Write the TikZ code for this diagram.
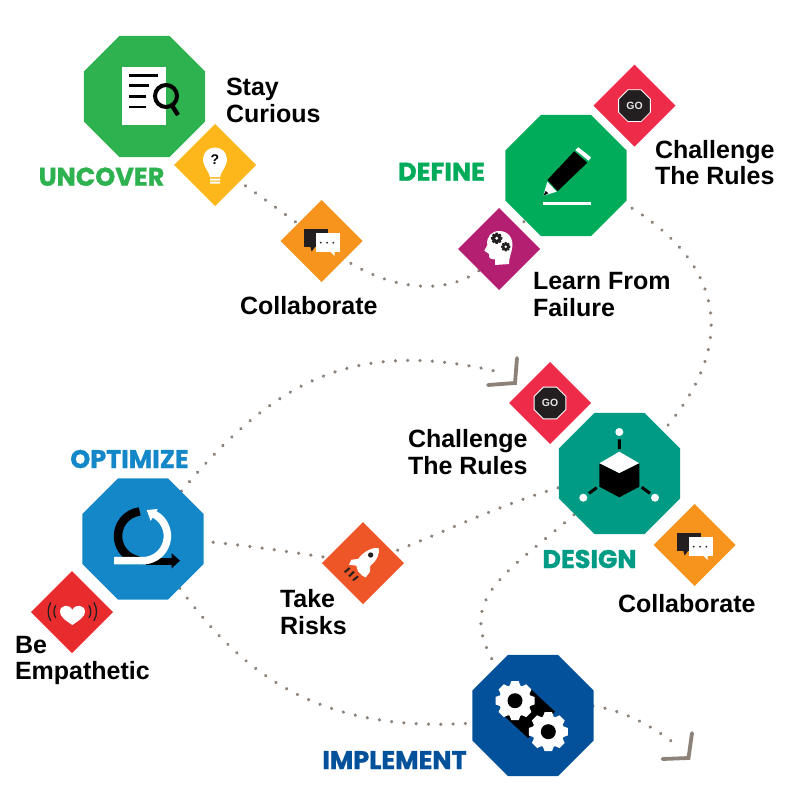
\documentclass[tikz,border=0pt]{standalone}
\usepackage{fontspec}
\setmainfont{Liberation Sans}
\newfontfamily\headfont[FakeBold=1.2]{Poppins}
\usetikzlibrary{shapes.geometric,backgrounds,calc,decorations.markings}
\definecolor{dotgrey}{HTML}{8C8279}
\definecolor{cUncover}{HTML}{2EB24F}
\definecolor{cDefine}{HTML}{00AB5A}
\definecolor{cDesign}{HTML}{009B84}
\definecolor{cOptimize}{HTML}{1487C8}
\definecolor{cImplement}{HTML}{04519B}
\definecolor{cYellow}{HTML}{FDB71A}
\definecolor{cOrange}{HTML}{F7941D}
\definecolor{cRed}{HTML}{EF2B4A}
\definecolor{cPurple}{HTML}{B41F71}
\definecolor{cRocket}{HTML}{EE5527}
\definecolor{cHeart}{HTML}{E82C2E}
\definecolor{ink}{HTML}{231F20}
\tikzset{
  octa/.style={regular polygon,regular polygon sides=8,minimum size=131pt,inner sep=0pt,outer sep=0pt},
  tile/.style={diamond,aspect=1,minimum width=82pt,minimum height=82pt,inner sep=0pt,outer sep=0pt},
  trail/.style={postaction={decorate},decoration={markings,mark=between positions #1 and 1 step 12.3pt with {\fill[dotgrey] (0,0) circle (1.8pt);}}},
  trail/.default=0pt,
  chev/.style={draw=dotgrey,line width=3.8pt,line cap=round,line join=miter},
  lab/.style={font=\bfseries\fontsize{25}{26.6}\selectfont,text=black,align=left,inner sep=0pt,outer sep=0pt},
  head/.style={font=\headfont\bfseries\fontsize{25.5}{26}\selectfont,inner sep=0pt,outer sep=0pt},
  chat/.pic={
    \fill[ink] (-17.7,-12) rectangle (6.7,5.7);
    \fill[ink] (-11.7,5) -- (-10,10.5) -- (-6,5) -- cycle;
    \fill[white] (-6,-7.7) rectangle (18,10.7);
    \fill[white] (8,10) -- (13,15) -- (13,10) -- cycle;
    \foreach \q in {-1,5.4,11.7} \fill[ink] (\q,1.7) circle (1);
  },
  gosign/.pic={
    \draw[fill=ink,draw=white,line width=.8pt] (22.5:17.2) -- (67.5:17.2) -- (112.5:17.2) -- (157.5:17.2) -- (202.5:17.2) -- (247.5:17.2) -- (292.5:17.2) -- (337.5:17.2) -- cycle;
    \node[font=\bfseries\fontsize{10.5}{11}\selectfont,text=white!90!black,inner sep=0pt] (t) at (0,0) {GO};
  },
}
\newcommand{\gearicon}[6]{%
  \begin{scope}[shift={(#1)}]
    \fill[#4] (0,0) circle ({0.82*#2});
    \foreach \i in {1,...,#3}
      \fill[#4,rotate={\i*360/#3}] ({-0.3*#2},{0.7*#2}) -- ({-0.19*#2},{#2}) -- ({0.19*#2},{#2}) -- ({0.3*#2},{0.7*#2}) -- cycle;
    \fill[#5] (0,0) circle (#6);
  \end{scope}}
\begin{document}
\begin{tikzpicture}[x=1pt,y=-1pt]
\useasboundingbox (0,0) rectangle (800,800);
% stage shapes
\node[octa,fill=cUncover] (uncover) at (144.5,96.5) {};
\node[octa,fill=cDefine] (define) at (566,175.5) {};
\node[octa,fill=cDesign] (design) at (619.5,473.5) {};
\node[octa,fill=cOptimize] (optimize) at (143,539) {};
\node[octa,fill=cImplement] (implement) at (533,715.5) {};
% value tiles
\node[tile,fill=cYellow] (curious) at (215,165) {};
\node[tile,fill=cOrange] (collabA) at (321.7,241) {};
\node[tile,fill=cRed] (goA) at (634.5,105.7) {};
\node[tile,fill=cPurple] (failure) at (499,249) {};
\node[tile,fill=cRed] (goB) at (550,403) {};
\node[tile,fill=cOrange] (collabB) at (694.7,545) {};
\node[tile,fill=cRocket] (risks) at (363,563) {};
\node[tile,fill=cHeart] (empathy) at (72,612) {};
% arrow ends
\coordinate (endA) at (503,373);
\coordinate (endB) at (680,748);
\coordinate (tipA) at (515,383);
\coordinate (tipB) at (688.5,758);
\begin{scope}[on background layer]
  \path[trail] (curious.center) .. controls (250,188) and (290,218) .. (collabA.center);
  \path[trail] (collabA.center) .. controls (370,288) and (460,310) .. (failure.center);
  \path[trail] (failure.center) -- (define.center);
  \path[trail] (define.center) .. controls (730,240) and (765,350) .. (design.center);
  \path[trail] (risks.center) .. controls (440,537) and (520,490) .. (design.center);
  \path[trail=8.8pt] (optimize.center) .. controls (200,537) and (290,552) .. (risks.center);
  \path[trail] (design.center) .. controls (500,590) and (425,590) .. (implement.center);
  \path[trail] (optimize.center) .. controls (250,400) and (330,330) .. (endA);
  \path[trail] (optimize.center) .. controls (210,625) and (275,760) .. (implement.center);
  \path[trail] (implement.center) .. controls (585,690) and (640,715) .. (endB);
  \draw[chev] ($(tipA)+(2,-25)$) -- (tipA) -- ($(tipA)+(-27,2)$);
  \draw[chev] ($(tipB)+(3.5,-25)$) -- (tipB) -- ($(tipB)+(-26,1)$);
\end{scope}
% uncover icon
\fill[white] (121.7,67.3) rectangle (166,125.3);
\draw[black,line width=2.5pt] (129.3,75.7) -- (158,75.7) (129.3,85.7) -- (149,85.7) (129.3,96.7) -- (146,96.7) (129.3,107) -- (146,107);
\draw[black,line width=4pt] (166,96) circle (11);
\draw[black,line width=4.4pt] (171.7,105) -- (178,115);
% define icon
\fill[white] (578.3,147.3) -- (591,157.3) -- (588.7,160.7) -- (575.3,150) -- cycle;
\fill[black] (574.3,151.3) -- (587.3,162.7) -- (557.7,191) -- (547.3,180) -- cycle;
\fill[white] (547.3,181.7) -- (556.7,191.7) -- (543.3,195.7) -- cycle;
\fill[black] (545.7,191) -- (548.3,193.3) -- (543.3,195.7) -- cycle;
\draw[white,line width=3.5pt] (543.3,203.3) -- (590.7,203.3);
% design icon
\fill[white] (619.3,451.7) -- (639.3,463.3) -- (619.3,473.3) -- (599.3,463.3) -- cycle;
\fill[black] (599.3,463.3) -- (619.3,473.3) -- (639.3,463.3) -- (639.3,486.7) -- (619.3,497.3) -- (599.3,486.7) -- cycle;
\draw[black,line width=3pt] (619.3,439.3) -- (619.3,449) (589,493.3) -- (596.7,487.7) (641.7,487.3) -- (650,493.3);
\fill[white] (619.3,432) circle (4) (583.3,497.7) circle (4) (655,497.7) circle (4);
% optimize icon
\draw[black,line width=8.5pt] ($(142.7,536)+(263:24.7)$) arc (263:100:24.7);
\draw[black,line width=7pt] (146,561.7) -- (172,561.7);
\fill[black] (171.7,553.3) -- (180,560.7) -- (171.7,568.3) -- cycle;
\draw[white,line width=7.5pt] ($(142.7,536)+(298:24.7)$) arc (298:450:24.7) -- (114,560.7);
\fill[white] (146.7,510) -- (157.7,509) -- (150.7,521) -- cycle;
% implement icon
\fill[black] (530.7,689) -- (555,711.7) -- (528,738) -- (505,716.7) -- cycle;
\gearicon{515,700.7}{19.5}{8}{white}{black}{7.5}
\gearicon{548.3,731.7}{19.5}{8}{white}{black}{7.5}
% tile icons
\pic at (collabA) {chat};
\pic at (collabB) {chat};
\pic (signA) at (goA) {gosign};
\pic (signB) at (goB) {gosign};
% bulb
\begin{scope}[shift={(curious.center)}]
  \fill[white] (-5,12) .. controls (-6,6) and (-12,2) .. (-12,-6) .. controls (-12,-13) and (-6,-17.5) .. (0,-17.5) .. controls (6,-17.5) and (12,-13) .. (12,-6) .. controls (12,2) and (6,6) .. (5,12) -- cycle;
  \fill[white] (-5,13.5) rectangle (5,15.5) (-5,16.5) rectangle (5,18.5);
  \node[font=\bfseries\fontsize{14}{14}\selectfont,text=black,inner sep=0pt] (quest) at (0,-5) {?};
\end{scope}
% head
\begin{scope}[shift={(390,60)},scale=0.33333]
  \fill[white] (315,615) -- (315,598) .. controls (305,598) and (295,597) .. (297,582) -- (283,572) -- (292,555) .. controls (288,530) and (305,513) .. (328,513) .. controls (355,513) and (370,535) .. (367,560) .. controls (365,580) and (357,590) .. (357,612) -- cycle;
\end{scope}
\gearicon{496.7,238.3}{5.6}{8}{ink}{white}{1.6}
\gearicon{505.7,246.7}{4.6}{8}{ink}{white}{1.4}
% rocket
\begin{scope}[shift={(323,523)},scale=0.33333]
  \fill[white] (167,75) .. controls (150,73) and (125,82) .. (105,108) -- (85,110) -- (78,125) -- (100,128) -- (105,145) -- (118,158) -- (128,163) -- (140,148) -- (142,128) .. controls (165,110) and (170,90) .. (167,75) -- cycle;
  \fill[ink] (143,96) circle (8);
  \draw[ink,line width=2pt] (65,148) -- (80,135) (78,160) -- (93,146) (90,172) -- (105,160);
\end{scope}
% heart
\begin{scope}[shift={(10,440)},scale=0.33333]
  \fill[white] (187,555) .. controls (165,540) and (150,530) .. (150,515) .. controls (150,495) and (178,490) .. (187,510) .. controls (196,490) and (225,495) .. (225,515) .. controls (225,530) and (209,540) .. (187,555) -- cycle;
  \draw[ink,line width=1.3pt,line cap=round] (122,488) .. controls (112,505) and (112,525) .. (122,542) (137,497) .. controls (130,508) and (130,522) .. (137,533) (237,497) .. controls (244,508) and (244,522) .. (237,533) (252,488) .. controls (262,505) and (262,525) .. (252,542);
\end{scope}
% labels
\node[lab,anchor=west] (lStay) at (226,100.5) {Stay\\Curious};
\node[lab,anchor=base west] (lCollabA) at (240,314) {Collaborate};
\node[lab,anchor=west] (lGoA) at (655,162.5) {Challenge\\The Rules};
\node[lab,anchor=west] (lFail) at (533,294.5) {Learn From\\Failure};
\node[lab,anchor=west] (lGoB) at (408,452) {Challenge\\The Rules};
\node[lab,anchor=base west] (lCollabB) at (618,612) {Collaborate};
\node[lab,anchor=west] (lRisk) at (280,612) {Take\\Risks};
\node[lab,anchor=west] (lEmp) at (15,660.5) {Be\\Empathetic};
% stage names
\node[head,text=cUncover,anchor=base] (hUncover) at (101.5,185.7) {UNCOVER};
\node[head,text=cDefine,anchor=base] (hDefine) at (441.5,180.7) {DEFINE};
\node[head,text=cOptimize,anchor=base] (hOptimize) at (129.5,468) {OPTIMIZE};
\node[head,text=cDesign,anchor=base] (hDesign) at (589.5,568) {DESIGN};
\node[head,text=cImplement,anchor=base] (hImplement) at (394.5,769) {IMPLEMENT};
\end{tikzpicture}
\end{document}
